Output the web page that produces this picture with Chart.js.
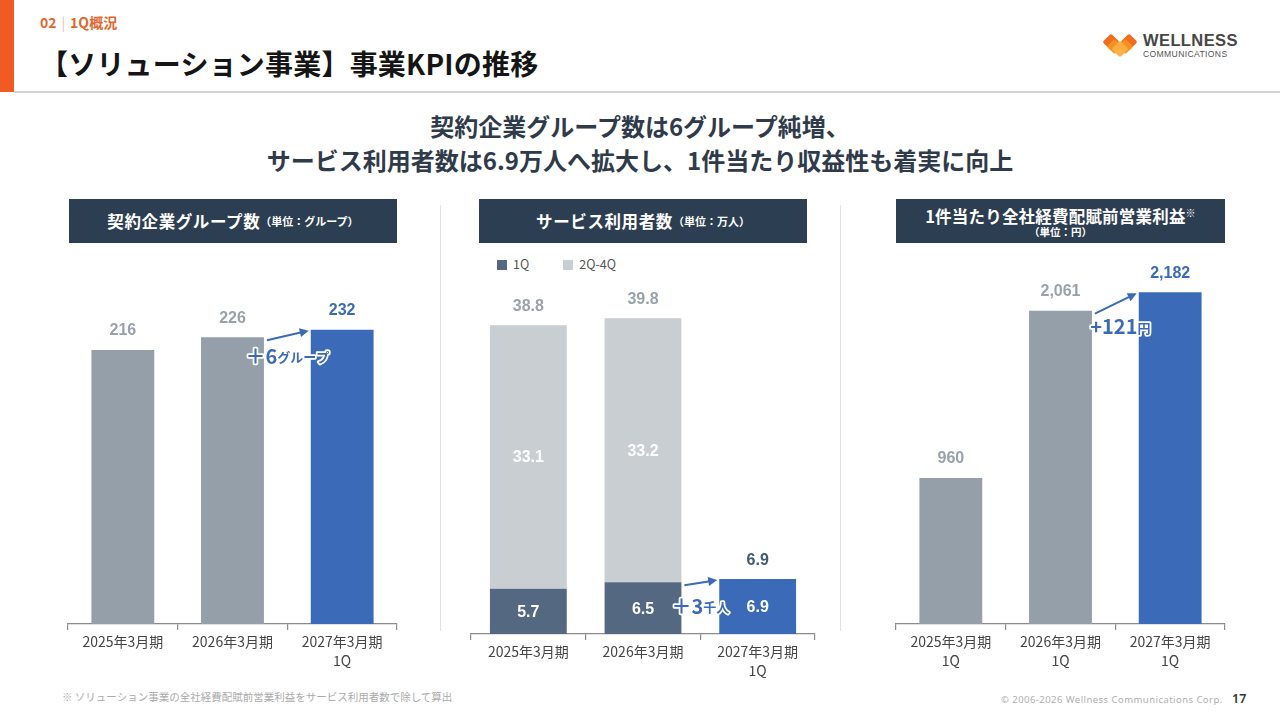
<!DOCTYPE html>
<html><head><meta charset="utf-8">
<script src="https://cdn.jsdelivr.net/npm/chart.js@4.4.1/dist/chart.umd.min.js"></script>
<style>
html,body{margin:0;padding:0;}
body{width:1280px;height:720px;position:relative;overflow:hidden;background:#fff;font-family:"Noto Sans CJK JP","Noto Sans",sans-serif;}
.abs{position:absolute;}
.hbox{position:absolute;background:#2c3e51;color:#fff;font-weight:700;display:flex;flex-direction:column;align-items:center;justify-content:center;white-space:nowrap;}
.hbox .m{font-size:16.5px;letter-spacing:0.6px;line-height:18px;}
.hbox .s{font-size:11px;}
.sep{position:absolute;width:1px;background:#e2e2e2;}
canvas{position:absolute;}
</style></head>
<body>
<div class="abs" style="left:0;top:0;width:14px;height:92px;background:#f15a22;"></div>
<div class="abs" style="left:14px;top:91px;width:1266px;height:2px;background:#d5d5d5;"></div>
<div class="abs" style="left:40px;top:12px;font-size:14px;font-weight:700;color:#e0692f;white-space:nowrap;">02<span style="font-weight:300;color:#e9a27f;margin:0 5px;">|</span>1Q概況</div>
<div class="abs" style="left:40px;top:43px;font-size:28px;font-weight:700;color:#151515;white-space:nowrap;letter-spacing:0.2px;">【ソリューション事業】事業KPIの推移</div>

<svg class="abs" style="left:1101px;top:34px;" width="38" height="24" viewBox="0 0 38 24">
  <g>
    <rect x="4" y="2" width="12" height="12" rx="2" transform="rotate(45 10 8)" fill="#f26a1b"/>
    <rect x="22" y="2" width="12" height="12" rx="2" transform="rotate(45 28 8)" fill="#f26a1b"/>
    <rect x="8" y="7" width="11" height="11" rx="2" transform="rotate(45 13.5 12.5)" fill="#f7931e" opacity="0.95"/>
    <rect x="19" y="7" width="11" height="11" rx="2" transform="rotate(45 24.5 12.5)" fill="#f7931e" opacity="0.95"/>
    <rect x="13" y="9" width="12" height="12" rx="2" transform="rotate(45 19 15)" fill="#fbb040" opacity="0.95"/>
  </g>
</svg>
<div class="abs" style="left:1143px;top:31px;font-family:'Liberation Sans',Arial,sans-serif;font-size:16.5px;font-weight:700;color:#474747;letter-spacing:0.4px;">WELLNESS</div>
<div class="abs" style="left:1143px;top:49px;font-family:'Liberation Sans',Arial,sans-serif;font-size:8.6px;color:#555;letter-spacing:0.35px;">COMMUNICATIONS</div>

<div class="abs" style="left:0;width:1280px;top:109px;text-align:center;font-size:24px;font-weight:700;color:#2f3b4a;line-height:34px;">契約企業グループ数は6グループ純増、<br>サービス利用者数は6.9万人へ拡大し、1件当たり収益性も着実に向上</div>

<div class="hbox" style="left:69px;top:199px;width:328px;height:44px;flex-direction:row;"><span class="m">契約企業グループ数</span><span class="s">（単位：グループ）</span></div>
<div class="hbox" style="left:479px;top:199px;width:328px;height:44px;flex-direction:row;"><span class="m">サービス利用者数</span><span class="s">（単位：万人）</span></div>
<div class="hbox" style="left:896px;top:199px;width:329px;height:44px;"><span class="m" style="letter-spacing:0.2px;">1件当たり全社経費配賦前営業利益<sup style="font-size:10px;vertical-align:6px;">※</sup></span><span class="s" style="line-height:13px;font-size:10.5px;">（単位：円）</span></div>

<div class="sep" style="left:440px;top:205px;height:426px;"></div>
<div class="sep" style="left:840px;top:205px;height:426px;"></div>

<div id="legend2" class="abs" style="left:497px;top:254px;font-size:12.5px;color:#555;white-space:nowrap;"></div>

<canvas id="c1" width="333" height="424" style="left:66px;top:250px;"></canvas>
<canvas id="c2" width="348" height="404" style="left:469px;top:280px;"></canvas>
<canvas id="c3" width="333" height="424" style="left:894px;top:250px;"></canvas>

<div class="abs" style="left:62px;top:689px;font-size:10.5px;color:#ababab;white-space:nowrap;">※ ソリューション事業の全社経費配賦前営業利益をサービス利用者数で除して算出</div>
<div class="abs" style="left:1001px;top:693px;font-family:'Noto Sans',sans-serif;font-size:9.5px;color:#b0b0b0;letter-spacing:0.45px;white-space:nowrap;">© 2006-2026 Wellness Communications Corp.</div>
<div class="abs" style="left:1232px;top:690px;font-family:'Noto Sans',sans-serif;font-size:12.5px;font-weight:600;color:#333;">17</div>

<script>
// ---------- data ----------
const groupCategories = [['2025年3月期'], ['2026年3月期'], ['2027年3月期', '1Q']];
const groupCounts = [216, 226, 232];

const userCategories = [['2025年3月期'], ['2026年3月期'], ['2027年3月期', '1Q']];
const userSeriesNames = ['1Q', '2Q-4Q'];
const users1Q = [5.7, 6.5, 6.9];
const users2Q4Q = [33.1, 33.2, null];
const userTotals = [38.8, 39.8, 6.9];

const profitCategories = [['2025年3月期', '1Q'], ['2026年3月期', '1Q'], ['2027年3月期', '1Q']];
const profitPerUser = [960, 2061, 2182];

const deltaGroups = ['＋6', 'グループ'];
const deltaUsers = ['＋3', '千人'];
const deltaProfit = ['+121', '円'];

// ---------- styles ----------
const C_GRAY = '#959fa9';
const C_BLUE = '#3b6bb8';
const C_SLATE = '#546981';
const C_LIGHT = '#c9ced3';
const C_LABEL_GRAY = '#99a2ab';
const C_LABEL_SLATE = '#3f5a74';
const FONT_JP = '"Noto Sans CJK JP", "Noto Sans", sans-serif';
const FONT_NUM = '"Liberation Sans", Arial, sans-serif';

Chart.defaults.font.family = FONT_JP;

// HTML legend for chart 2
document.getElementById('legend2').innerHTML =
  `<span style="display:inline-block;width:10px;height:10px;background:${C_SLATE};margin-right:6px;vertical-align:-1px;"></span>${userSeriesNames[0]}` +
  `<span style="display:inline-block;width:10px;height:10px;background:${C_LIGHT};margin:0 6px 0 34px;vertical-align:-1px;"></span>${userSeriesNames[1]}`;

const kpiPlugin = {
  id: 'kpi',
  afterDatasetsDraw(chart, args, o) {
    const ctx = chart.ctx;
    const n = chart.data.labels.length;
    ctx.save();
    ctx.textAlign = 'center';
    ctx.textBaseline = 'middle';
    if (o.top) {
      for (let i = 0; i < n; i++) {
        let el = null;
        for (let d = chart.data.datasets.length - 1; d >= 0; d--) {
          const v = chart.data.datasets[d].data[i];
          if (v !== null && v !== undefined) { el = chart.getDatasetMeta(d).data[i]; break; }
        }
        if (!el) continue;
        ctx.font = o.top.font;
        ctx.fillStyle = o.top.colors[i];
        ctx.fillText(o.top.format(o.top.values[i]), el.x, el.y - o.top.offset);
      }
    }
    if (o.inside) {
      chart.data.datasets.forEach((ds, d) => {
        const meta = chart.getDatasetMeta(d);
        ds.data.forEach((v, i) => {
          if (v === null || v === undefined) return;
          const el = meta.data[i];
          ctx.font = o.inside.font;
          ctx.fillStyle = o.inside.color;
          ctx.fillText(v.toFixed(1), el.x, (el.y + el.base) / 2 + 1);
        });
      });
    }
    if (o.delta) {
      const meta = chart.getDatasetMeta(o.delta.dataset);
      const a = meta.data[o.delta.from], b = meta.data[o.delta.to];
      const x1 = a.x + a.width / 2 + 3, y1 = a.y + 3;
      const x2 = b.x - b.width / 2 - 2, y2 = b.y + 1;
      const ang = Math.atan2(y2 - y1, x2 - x1);
      const hl = 9;
      ctx.strokeStyle = C_BLUE;
      ctx.fillStyle = C_BLUE;
      ctx.lineWidth = 2;
      ctx.beginPath();
      ctx.moveTo(x1, y1);
      ctx.lineTo(x2 - Math.cos(ang) * hl * 0.8, y2 - Math.sin(ang) * hl * 0.8);
      ctx.stroke();
      ctx.beginPath();
      ctx.moveTo(x2, y2);
      ctx.lineTo(x2 - hl * Math.cos(ang) + 4.5 * Math.sin(ang), y2 - hl * Math.sin(ang) - 4.5 * Math.cos(ang));
      ctx.lineTo(x2 - hl * Math.cos(ang) - 4.5 * Math.sin(ang), y2 - hl * Math.sin(ang) + 4.5 * Math.cos(ang));
      ctx.closePath();
      ctx.fill();

      const cx = (a.x + b.x) / 2 + o.delta.dx;
      const cy = a.y + o.delta.dy;
      const bigFont = '700 20px ' + FONT_JP;
      const smallFont = '700 13px ' + FONT_JP;
      ctx.font = bigFont; const w1 = ctx.measureText(o.delta.text[0]).width;
      ctx.font = smallFont; const w2 = ctx.measureText(o.delta.text[1]).width;
      let sx = cx - (w1 + w2) / 2;
      ctx.textAlign = 'left';
      ctx.lineJoin = 'round';
      ctx.strokeStyle = '#ffffff';
      ctx.lineWidth = 3.5;
      ctx.font = bigFont;
      ctx.strokeText(o.delta.text[0], sx, cy);
      ctx.fillStyle = C_BLUE;
      ctx.fillText(o.delta.text[0], sx, cy);
      ctx.font = smallFont;
      ctx.strokeText(o.delta.text[1], sx + w1, cy + 1);
      ctx.fillText(o.delta.text[1], sx + w1, cy + 1);
    }
    ctx.restore();
  }
};

function baseOptions(maxY, kpi) {
  return {
    responsive: false,
    maintainAspectRatio: false,
    animation: false,
    devicePixelRatio: 1,
    layout: { padding: { left: 2, right: 2, top: 0, bottom: 0 } },
    plugins: { legend: { display: false }, tooltip: { enabled: false }, kpi: kpi },
    scales: {
      x: {
        stacked: true,
        grid: { display: true, drawOnChartArea: false, drawTicks: true, tickLength: 6, color: '#8c8c8c', lineWidth: 1.2, offset: true },
        border: { display: true, color: '#8c8c8c', width: 1.3 },
        ticks: { color: '#454545', font: { size: 14, family: FONT_JP, lineHeight: 1.36 }, padding: 2, maxRotation: 0, autoSkip: false },
        afterFit(s) { s.height = 50; }
      },
      y: { display: false, stacked: true, min: 0, max: maxY }
    }
  };
}

const fmtInt = v => v.toLocaleString('en-US');
const fmt1 = v => v.toFixed(1);

// Chart 1
new Chart(document.getElementById('c1'), {
  type: 'bar',
  data: {
    labels: groupCategories,
    datasets: [{ data: groupCounts, backgroundColor: [C_GRAY, C_GRAY, C_BLUE], categoryPercentage: 1, barPercentage: 0.573 }]
  },
  options: baseOptions(294.8, {
    top: { values: groupCounts, colors: [C_LABEL_GRAY, C_LABEL_GRAY, C_BLUE], format: fmtInt, font: '700 16px ' + FONT_NUM, offset: 19 },
    delta: { dataset: 0, from: 1, to: 2, text: deltaGroups, dx: 0, dy: 19 }
  }),
  plugins: [kpiPlugin]
});

// Chart 2
new Chart(document.getElementById('c2'), {
  type: 'bar',
  data: {
    labels: userCategories,
    datasets: [
      { label: userSeriesNames[0], data: users1Q, backgroundColor: [C_SLATE, C_SLATE, C_BLUE], categoryPercentage: 1, barPercentage: 0.67 },
      { label: userSeriesNames[1], data: users2Q4Q, backgroundColor: C_LIGHT, categoryPercentage: 1, barPercentage: 0.67 }
    ]
  },
  options: baseOptions(44.5, {
    top: { values: userTotals, colors: [C_LABEL_GRAY, C_LABEL_GRAY, C_LABEL_SLATE], format: fmt1, font: '700 16px ' + FONT_NUM, offset: 19 },
    inside: { font: '700 16px ' + FONT_NUM, color: '#ffffff' },
    delta: { dataset: 0, from: 1, to: 2, text: deltaUsers, dx: 0, dy: 24 }
  }),
  plugins: [kpiPlugin]
});

// Chart 3
new Chart(document.getElementById('c3'), {
  type: 'bar',
  data: {
    labels: profitCategories,
    datasets: [{ data: profitPerUser, backgroundColor: [C_GRAY, C_GRAY, C_BLUE], categoryPercentage: 1, barPercentage: 0.573 }]
  },
  options: baseOptions(2460, {
    top: { values: profitPerUser, colors: [C_LABEL_GRAY, C_LABEL_GRAY, C_BLUE], format: fmtInt, font: '700 16px ' + FONT_NUM, offset: 19 },
    delta: { dataset: 0, from: 1, to: 2, text: deltaProfit, dx: 5, dy: 16 }
  }),
  plugins: [kpiPlugin]
});
</script>
</body></html>
